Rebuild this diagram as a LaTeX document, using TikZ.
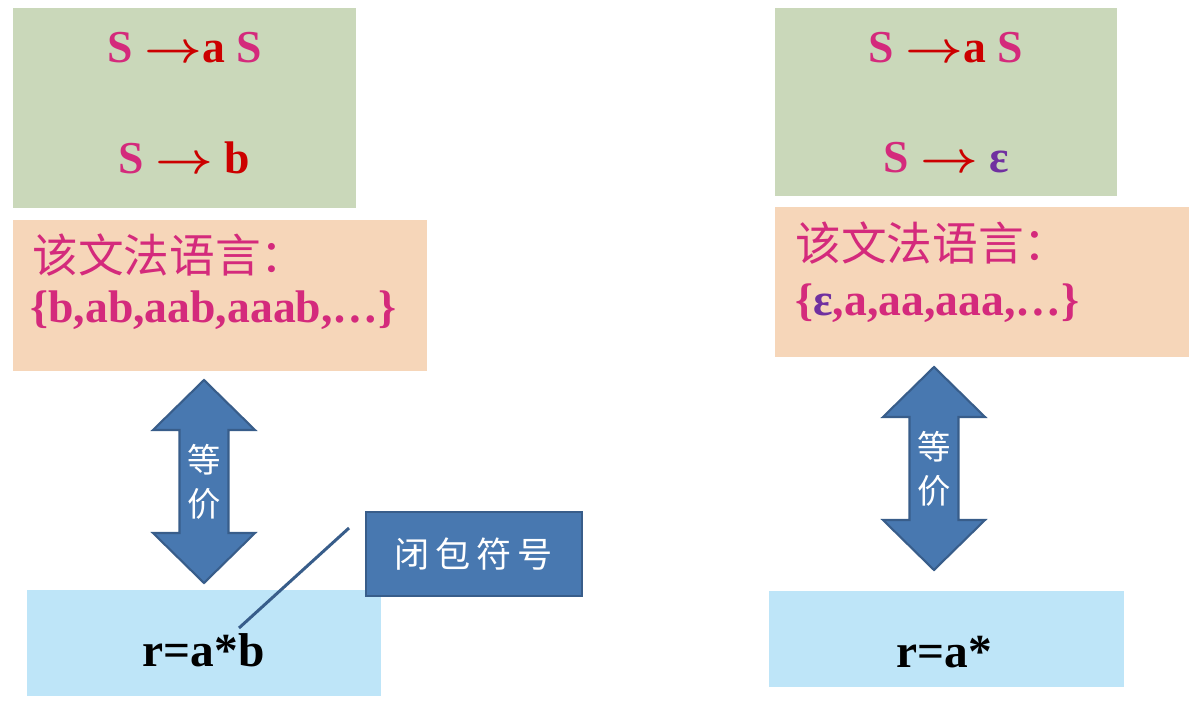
\documentclass[tikz,border=0pt]{standalone}
\usepackage{fontspec}
\setmainfont{Liberation Serif}
\newfontfamily\cjk{Noto Sans CJK SC}
\usetikzlibrary{arrows.meta,positioning,calc}
\definecolor{gramgreen}{HTML}{CAD8BA}
\definecolor{langpeach}{HTML}{F6D6B9}
\definecolor{regblue}{HTML}{BEE5F8}
\definecolor{arrowblue}{HTML}{4878B0}
\definecolor{arrowedge}{HTML}{385D8A}
\definecolor{symmag}{HTML}{D42A7C}
\definecolor{termred}{HTML}{CC0000}
\definecolor{epspurple}{HTML}{7030A0}
\newcommand{\prodto}{\scalebox{1.15}[1]{\boldmath$\rightarrow$}}

\begin{document}
\begin{tikzpicture}[
  gramzone/.style={fill=gramgreen, inner sep=0pt},
  langzone/.style={fill=langpeach, inner sep=0pt},
  regzone/.style={fill=regblue, inner sep=0pt},
  prodline/.style={font=\fontsize{26}{30}\selectfont\bfseries, inner sep=0pt},
  langline/.style={font=\fontsize{26}{30}\selectfont\bfseries, text=symmag, inner sep=0pt, anchor=west},
  regline/.style={font=\fontsize{27}{30}\selectfont\bfseries, inner sep=0pt},
  eqarrow/.style={fill=arrowblue, draw=arrowedge, line width=1.2pt},
  eqlabel/.style={font=\cjk\fontsize{19}{25}\selectfont, text=white, align=center, inner sep=0pt},
  notebox/.style={fill=arrowblue, draw=arrowedge, line width=1.7pt, minimum width=4.32cm, minimum height=1.68cm,
    font=\cjk\fontsize{20}{22}\selectfont, text=white},
  noteline/.style={draw=arrowedge, line width=1.7pt}
]
  \useasboundingbox (0,0) rectangle (23.78,-14.18);

  % left: S -> aS | b
  \node[gramzone, minimum width=6.86cm, minimum height=4.0cm] (gramL) at (3.69,-2.16) {};
  \node[prodline] (pL1) at (3.70,-0.95) {\textcolor{symmag}{S} \textcolor{termred}{\prodto a} \textcolor{symmag}{S}};
  \node[prodline] (pL2) at (3.69,-3.15) {\textcolor{symmag}{S} \textcolor{termred}{\prodto\ b}};
  \node[langzone, minimum width=8.28cm, minimum height=3.02cm] (langL) at (4.40,-5.91) {};
  \node[langline, font=\cjk\fontsize{26}{30}\selectfont] (lL1) at (0.64,-5.1) {该文法语言：};
  \node[langline] (lL2) at (0.60,-6.2) {\{b,ab,aab,aaab,…\}};
  \node[regzone, minimum width=7.08cm, minimum height=2.12cm] (regL) at (4.08,-12.86) {};
  \node[regline] (rL) at (4.07,-13.0) {r=a*b};

  % right: S -> aS | eps
  \node[gramzone, minimum width=6.84cm, minimum height=3.76cm] (gramR) at (18.92,-2.04) {};
  \node[prodline] (pR1) at (18.92,-0.95) {\textcolor{symmag}{S} \textcolor{termred}{\prodto a} \textcolor{symmag}{S}};
  \node[prodline] (pR2) at (18.93,-3.15) {\textcolor{symmag}{S} \textcolor{termred}{\prodto} \textcolor{epspurple}{ε}};
  \node[langzone, minimum width=8.28cm, minimum height=3.0cm] (langR) at (19.64,-5.64) {};
  \node[langline, font=\cjk\fontsize{26}{30}\selectfont] (lR1) at (15.9,-4.86) {该文法语言：};
  \node[langline] (lR2) at (15.9,-6.06) {\{\textcolor{epspurple}{ε},a,aa,aaa,…\}};
  \node[regzone, minimum width=7.1cm, minimum height=1.92cm] (regR) at (18.93,-12.78) {};
  \node[regline] (rR) at (18.88,-13.04) {r=a*};

  % equivalence arrows
  \foreach \ax/\ay/\tag in {4.08/-7.6/L, 18.68/-7.34/R}{
    \draw[eqarrow] (\ax,\ay) -- ++(-1.02,-1) -- ++(0.53,0) -- ++(0,-2.06) -- ++(-0.53,0)
      -- ++(1.02,-1) -- ++(1.02,1) -- ++(-0.53,0) -- ++(0,2.06) -- ++(0.53,0) -- cycle;
    \node[eqlabel] (eq\tag) at (\ax,\ay-2.04) {等\\价};
  }

  % callout
  \node[notebox] (closure) at (9.48,-11.08) {闭\,包\,符\,号};
  \coordinate (noteTail) at (6.98,-10.56);
  \coordinate (noteTip) at (4.78,-12.56);
  \draw[noteline] (noteTail) -- (noteTip);
\end{tikzpicture}
\end{document}
